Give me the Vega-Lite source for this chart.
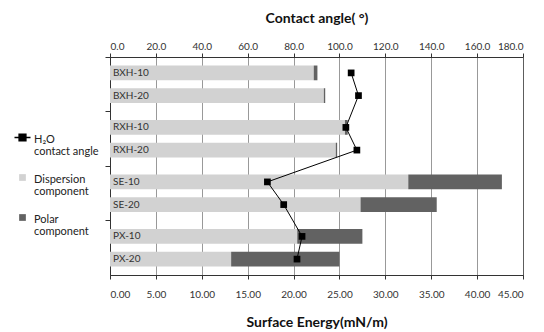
{
  "$schema": "https://vega.github.io/schema/vega-lite/v6.json",
  "width": 413,
  "height": 218,
  "autosize": "none",
  "padding": {"left": 110, "top": 57, "right": 21, "bottom": 57},
  "background": "white",
  "config": {
    "font": "Lato",
    "view": {"stroke": "#888", "strokeWidth": 1},
    "axis": {"labelFont": "Lato", "titleFont": "Lato", "domainColor": "#333", "tickColor": "#333", "labelColor": "#333", "titleColor": "#111"}
  },
  "datasets": {
    "bars": [
      {"group": "BXH", "sub": "10", "label": "BXH-10", "component": "Dispersion component", "ord": 0, "value": 22.2},
      {"group": "BXH", "sub": "10", "label": "BXH-10", "component": "Polar component", "ord": 1, "value": 0.4},
      {"group": "BXH", "sub": "20", "label": "BXH-20", "component": "Dispersion component", "ord": 0, "value": 23.3},
      {"group": "BXH", "sub": "20", "label": "BXH-20", "component": "Polar component", "ord": 1, "value": 0.15},
      {"group": "RXH", "sub": "10", "label": "RXH-10", "component": "Dispersion component", "ord": 0, "value": 25.6},
      {"group": "RXH", "sub": "10", "label": "RXH-10", "component": "Polar component", "ord": 1, "value": 0.3},
      {"group": "RXH", "sub": "20", "label": "RXH-20", "component": "Dispersion component", "ord": 0, "value": 24.6},
      {"group": "RXH", "sub": "20", "label": "RXH-20", "component": "Polar component", "ord": 1, "value": 0.15},
      {"group": "SE", "sub": "10", "label": "SE-10", "component": "Dispersion component", "ord": 0, "value": 32.5},
      {"group": "SE", "sub": "10", "label": "SE-10", "component": "Polar component", "ord": 1, "value": 10.2},
      {"group": "SE", "sub": "20", "label": "SE-20", "component": "Dispersion component", "ord": 0, "value": 27.3},
      {"group": "SE", "sub": "20", "label": "SE-20", "component": "Polar component", "ord": 1, "value": 8.3},
      {"group": "PX", "sub": "10", "label": "PX-10", "component": "Dispersion component", "ord": 0, "value": 20.4},
      {"group": "PX", "sub": "10", "label": "PX-10", "component": "Polar component", "ord": 1, "value": 7.1},
      {"group": "PX", "sub": "20", "label": "PX-20", "component": "Dispersion component", "ord": 0, "value": 13.2},
      {"group": "PX", "sub": "20", "label": "PX-20", "component": "Polar component", "ord": 1, "value": 11.8}
    ],
    "angle": [
      {"group": "BXH", "sub": "10", "idx": 1, "angle": 105.1},
      {"group": "BXH", "sub": "20", "idx": 2, "angle": 108.3},
      {"group": "RXH", "sub": "10", "idx": 3, "angle": 102.8},
      {"group": "RXH", "sub": "20", "idx": 4, "angle": 107.6},
      {"group": "SE", "sub": "10", "idx": 5, "angle": 68.6},
      {"group": "SE", "sub": "20", "idx": 6, "angle": 75.7},
      {"group": "PX", "sub": "10", "idx": 7, "angle": 83.7},
      {"group": "PX", "sub": "20", "idx": 8, "angle": 81.5}
    ]
  },
  "encoding": {
    "y": {
      "field": "group", "type": "nominal", "sort": ["BXH", "RXH", "SE", "PX"],
      "scale": {"paddingInner": 0, "paddingOuter": 0},
      "axis": {"labels": false, "title": null, "ticks": true, "tickSize": 5, "bandPosition": 0, "grid": false}
    },
    "yOffset": {
      "field": "sub", "type": "nominal", "sort": ["10", "20"],
      "scale": {"paddingInner": 0.35, "paddingOuter": 0.375}
    }
  },
  "layer": [
    {
      "data": {"name": "bars"},
      "layer": [
        {
          "mark": {"type": "bar"},
          "encoding": {
            "x": {
              "field": "value", "type": "quantitative", "stack": "zero",
              "scale": {"domain": [0, 45], "nice": false},
              "axis": {
                "orient": "bottom", "values": [0, 5, 10, 15, 20, 25, 30, 35, 40, 45], "format": ".2f",
                "grid": true, "gridDash": [1, 1], "gridColor": "#333", "gridWidth": 1,
                "tickSize": 4, "labelPadding": 10, "labelFontSize": 10,
                "title": "Surface Energy(mN/m)", "titleFontSize": 14, "titleFontWeight": "bold", "titlePadding": 16
              }
            },
            "color": {
              "field": "component", "type": "nominal",
              "scale": {"domain": ["H₂O contact angle", "Dispersion component", "Polar component"], "range": ["#000000", "#d2d2d2", "#626262"]},
              "legend": {
                "orient": "none", "legendX": -93, "legendY": 75, "title": null, "padding": 0,
                "symbolSize": 256, "labelFont": "Lato", "labelFontSize": 11, "labelColor": "#222",
                "labelOffset": 6, "rowPadding": 15, "labelBaseline": "middle",
                "labelExpr": "[slice(datum.label, 0, indexof(datum.label, ' ')), slice(datum.label, indexof(datum.label, ' ') + 1)]",
                "encode": {
                  "symbols": {
                    "update": {
                      "shape": {"signal": "datum.value == 'H₂O contact angle' ? 'M-1,0L1,0M-0.42,-0.42L0.42,-0.42L0.42,0.42L-0.42,0.42Z' : 'M-0.42,-0.42L0.42,-0.42L0.42,0.42L-0.42,0.42Z'"},
                      "fill": {"scale": "color", "field": "value"},
                      "stroke": {"scale": "color", "field": "value"},
                      "strokeWidth": {"signal": "datum.value == 'H₂O contact angle' ? 1.5 : 0"},
                      "opacity": {"value": 1}
                    }
                  },
                  "labels": {"update": {"dy": {"value": 2.5}, "lineHeight": {"value": 12}}}
                }
              }
            },
            "order": {"field": "ord", "type": "quantitative"}
          }
        },
        {
          "transform": [{"filter": "datum.component == 'Dispersion component'"}],
          "mark": {"type": "text", "align": "left", "baseline": "middle", "dx": 3, "fontSize": 10, "color": "#333", "font": "Lato"},
          "encoding": {
            "x": {"datum": 0, "type": "quantitative"},
            "text": {"field": "label"}
          }
        }
      ]
    },
    {
      "data": {"name": "angle"},
      "mark": {"type": "line", "strokeWidth": 1, "point": {"shape": "square", "size": 45, "filled": true, "opacity": 1}},
      "encoding": {
        "x": {
          "field": "angle", "type": "quantitative",
          "scale": {"domain": [0, 180], "nice": false},
          "axis": {
            "orient": "top", "values": [0, 20, 40, 60, 80, 100, 120, 140, 160, 180], "format": ".1f",
            "grid": false, "tickSize": 4, "labelPadding": 2, "labelFontSize": 10,
            "title": "Contact angle( °)", "titleFontSize": 14, "titleFontWeight": "bold", "titlePadding": 16
          }
        },
        "color": {"datum": "H₂O contact angle", "type": "nominal"},
        "order": {"field": "idx", "type": "quantitative"}
      }
    }
  ],
  "resolve": {"scale": {"x": "independent"}}
}
